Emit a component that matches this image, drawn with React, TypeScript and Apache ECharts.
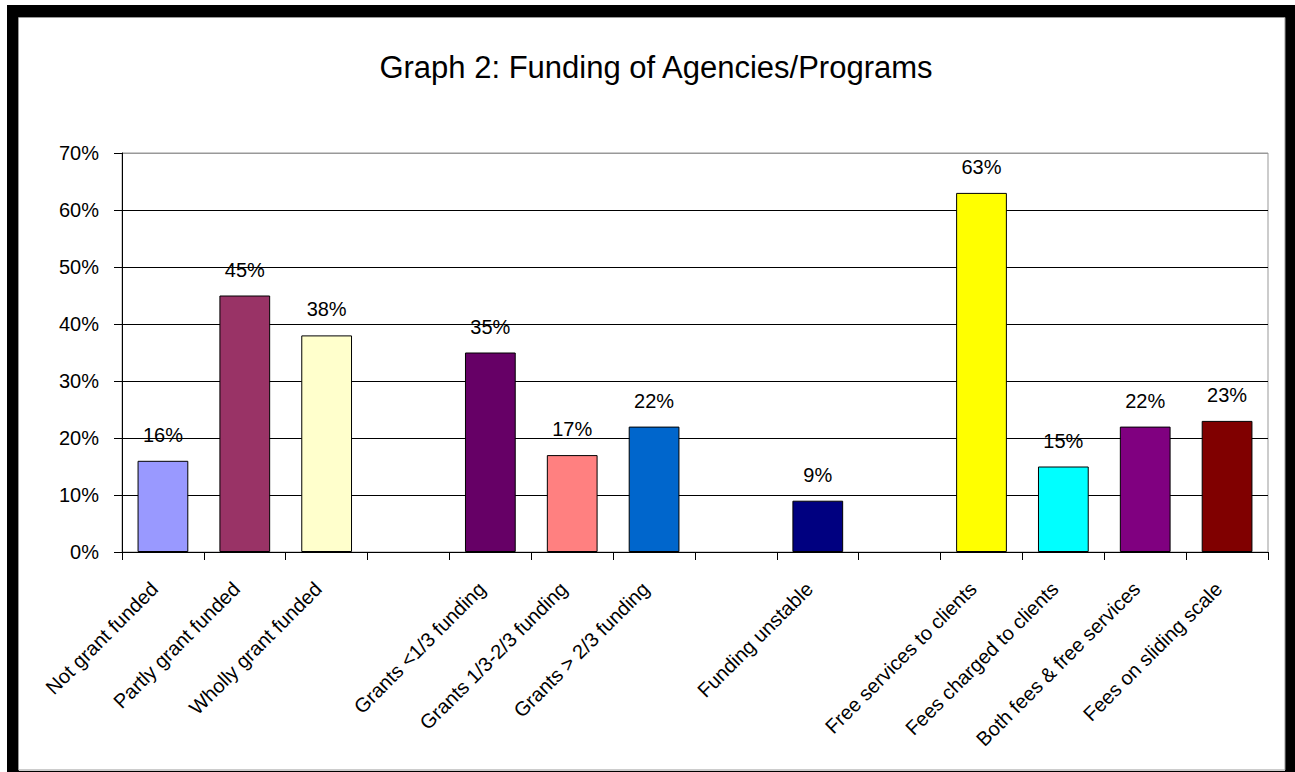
import React, { useEffect, useRef } from "react";
import * as echarts from "echarts";

const titleText = "Graph 2: Funding of Agencies/Programs";
const categories = [
  "Not grant funded",
  "Partly grant funded",
  "Wholly grant funded",
  "",
  "Grants <1/3 funding",
  "Grants 1/3-2/3 funding",
  "Grants > 2/3 funding",
  "",
  "Funding unstable",
  "",
  "Free services to clients",
  "Fees charged to clients",
  "Both fees & free services",
  "Fees on sliding scale",
];
const values: (number | null)[] = [16, 45, 38, null, 35, 17, 22, null, 9, null, 63, 15, 22, 23];
const barColors = [
  "#9999FF",
  "#993366",
  "#FFFFCC",
  "#FFFFFF",
  "#660066",
  "#FF8080",
  "#0066CC",
  "#FFFFFF",
  "#000080",
  "#FFFFFF",
  "#FFFF00",
  "#00FFFF",
  "#800080",
  "#800000",
];
const yMin = 0;
const yMax = 70;
const yStep = 10;

const FONT = "'Liberation Sans', Arial, sans-serif";

export default function App() {
  const ref = useRef<HTMLDivElement>(null);
  useEffect(() => {
    document.body.style.margin = "0";
    if (!ref.current) return;
    const chart = echarts.init(ref.current, null, { renderer: "svg" });
    const gridLineColors = ["#000", "#000", "#000", "#000", "#000", "#000", "#000", "#999"];
    chart.setOption({
      animation: false,
      backgroundColor: "#ffffff",
      textStyle: { fontFamily: FONT },
      title: {
        text: titleText,
        left: 651,
        top: 47,
        textAlign: "center",
        textStyle: { fontFamily: FONT, fontSize: 31, fontWeight: "normal", color: "#000" },
      },
      graphic: [
        {
          type: "rect",
          shape: { x: 13, y: 11, width: 1278, height: 766 },
          style: { fill: "none", stroke: "#000", lineWidth: 12 },
          silent: true,
        },
        {
          type: "rect",
          shape: { x: 18.5, y: 17.5, width: 1266.5, height: 752.5 },
          style: { fill: "none", stroke: "#999", lineWidth: 1 },
          silent: true,
        },
      ],
      grid: {
        left: 122,
        top: 153,
        right: 27,
        bottom: 220,
        show: true,
        borderColor: "#999",
        borderWidth: 1,
        containLabel: false,
      },
      xAxis: {
        type: "category",
        data: categories,
        boundaryGap: true,
        axisLine: { lineStyle: { color: "#000", width: 1 } },
        axisTick: { show: true, length: 8, lineStyle: { color: "#000" }, interval: 0 },
        axisLabel: {
          interval: 0,
          rotate: 45,
          margin: 25,
          padding: [0, 12, 0, 0],
          fontSize: 20,
          color: "#000",
          fontFamily: FONT,
        },
      },
      yAxis: {
        type: "value",
        min: yMin,
        max: yMax,
        interval: yStep,
        axisLine: { show: true, lineStyle: { color: "#000", width: 1 } },
        axisTick: { show: true, length: 8, lineStyle: { color: "#000" } },
        axisLabel: {
          formatter: "{value}%",
          fontSize: 20,
          color: "#000",
          margin: 23,
          fontFamily: FONT,
        },
        splitLine: { show: true, lineStyle: { color: gridLineColors, width: 1 } },
      },
      series: [
        {
          type: "bar",
          barCategoryGap: "38%",
          data: values.map((v, i) => ({
            value: v,
            itemStyle: { color: barColors[i], borderColor: "#000", borderWidth: 1 },
          })),
          label: {
            show: true,
            position: "top",
            distance: 16,
            formatter: "{c}%",
            fontSize: 20,
            color: "#000",
            fontFamily: FONT,
          },
        },
      ],
    });
    return () => chart.dispose();
  }, []);
  return <div ref={ref} style={{ width: 1295, height: 772 }} />;
}
